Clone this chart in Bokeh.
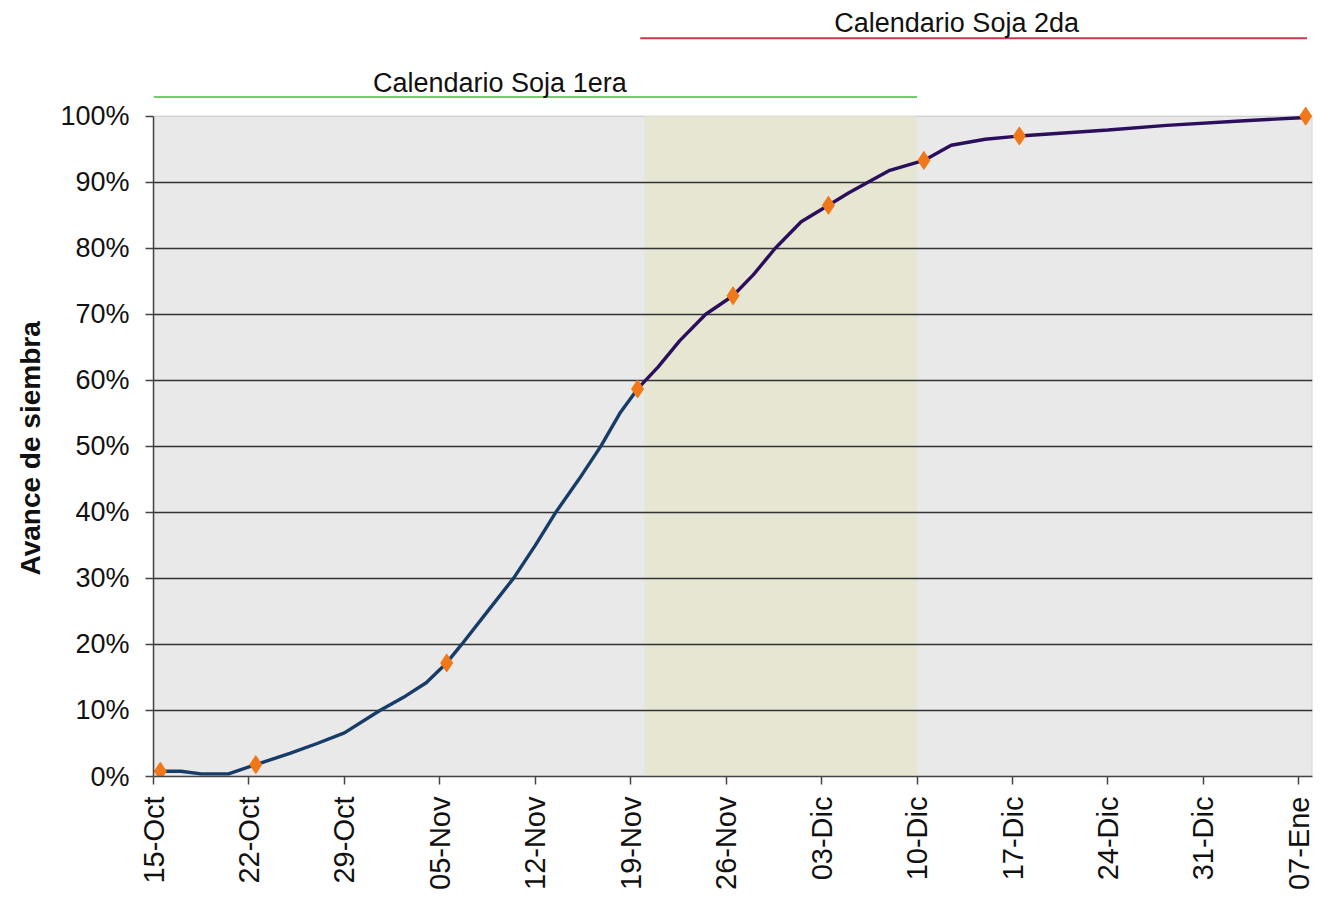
from bokeh.plotting import figure
from bokeh.models import Range1d, FixedTicker, BoxAnnotation, Title
from bokeh.core.properties import value
from bokeh.embed import file_html
from bokeh.resources import INLINE

# ---- data (x = days since 15-Oct) ----
tick_days = [0, 7, 14, 21, 28, 35, 42, 49, 56, 63, 70, 77, 84]
tick_labels = ["15-Oct", "22-Oct", "29-Oct", "05-Nov", "12-Nov", "19-Nov", "26-Nov",
               "03-Dic", "10-Dic", "17-Dic", "24-Dic", "31-Dic", "07-Ene"]

marker_days = [0.5, 7.5, 21.5, 35.5, 42.5, 49.5, 56.5, 63.5, 84.5]
marker_values = [0.8, 1.8, 17.2, 58.7, 72.8, 86.5, 93.3, 97.0, 100.0]

line1_days = [0.5, 2, 3.5, 5.5, 7.5, 10, 12, 14, 16.6, 18.5, 20, 21.5, 22.6, 24.5, 26.4, 28,
              29.5, 31.2, 32.8, 34.2, 35.5]
line1_values = [0.8, 0.8, 0.4, 0.4, 1.8, 3.5, 5.0, 6.6, 10, 12.2, 14.2, 17.2, 20, 25, 30, 35,
                40, 45, 50, 55, 58.7]

line2_days = [35.5, 37, 38.6, 40.5, 42.5, 44, 45.6, 47.5, 49.5, 51, 52.4, 54, 56.5,
              58.5, 61, 63.5, 70, 74.3, 80, 84.5]
line2_values = [58.7, 62, 66, 70, 72.8, 76, 80, 84, 86.5, 88.4, 90, 91.8, 93.3,
                95.6, 96.5, 97.0, 97.9, 98.6, 99.3, 99.8]

cal_names = ["Calendario Soja 1era", "Calendario Soja 2da"]
cal_start = [0, 35.7]
cal_end = [56, 84.6]
cal_line_y = [102.9, 111.8]
cal_text_x = [25.4, 58.9]
cal_text_y = [105.0, 114.1]
cal_colors = ["#6fcf6f", "#c8384a"]

shade_start, shade_end = 36, 56

y_ticks = [0, 10, 20, 30, 40, 50, 60, 70, 80, 90, 100]
y_labels = ["0%", "10%", "20%", "30%", "40%", "50%", "60%", "70%", "80%", "90%", "100%"]
y_title = "Avance de siembra"

FONT = "Liberation Sans"

p = figure(width=1321, height=893, output_backend="svg", toolbar_location=None,
           x_range=Range1d(0, 85), y_range=Range1d(0, 116),
           min_border_left=153, min_border_right=9, min_border_top=10, min_border_bottom=116)
p.outline_line_color = None
p.background_fill_color = "white"
p.border_fill_color = "white"

# plot area background and shaded band
p.add_layout(BoxAnnotation(left=0, right=85, bottom=0, top=100, fill_color="#e9e9e9",
                           fill_alpha=1, line_color="#8a8a8a", line_width=1.5, level="image"))
p.add_layout(BoxAnnotation(left=shade_start, right=shade_end, bottom=0, top=100,
                           fill_color="#e6e6d3", fill_alpha=1, line_color=None, level="image"))

# grid
p.xgrid.visible = False
p.ygrid.ticker = FixedTicker(ticks=y_ticks[1:-1])
p.ygrid.grid_line_color = "#333333"
p.ygrid.grid_line_width = 1.6

# axes
p.yaxis.ticker = FixedTicker(ticks=y_ticks)
p.yaxis.major_label_overrides = {t: l for t, l in zip(y_ticks, y_labels)}
p.yaxis.bounds = (0, 100)
p.yaxis.major_label_text_font = FONT
p.yaxis.major_label_text_font_size = "27px"
p.yaxis.major_label_text_color = "#111111"
p.yaxis.major_label_standoff = 16

p.xaxis.ticker = FixedTicker(ticks=tick_days)
p.xaxis.major_label_overrides = {t: l for t, l in zip(tick_days, tick_labels)}
p.xaxis.major_label_orientation = 3.14159265 / 2
p.xaxis.major_label_text_font = FONT
p.xaxis.major_label_text_font_size = "29px"
p.xaxis.major_label_text_color = "#111111"
p.xaxis.major_label_standoff = 12

for ax in (p.xaxis, p.yaxis):
    ax.axis_line_color = "#444444"
    ax.axis_line_width = 1.5
    ax.major_tick_line_color = "#444444"
    ax.major_tick_line_width = 1.5
    ax.major_tick_out = 8
    ax.major_tick_in = 0
    ax.minor_tick_line_color = None

# y axis title, placed to be centred on the 0-100% band
p.add_layout(Title(text=y_title, align="left", offset=201, standoff=20, vertical_align="top",
                   text_font=FONT, text_font_style="bold", text_font_size="28px",
                   text_color="#111111"), "left")

# calendar annotations above the plot area
p.segment(x0=cal_start, y0=cal_line_y, x1=cal_end, y1=cal_line_y, line_color=cal_colors,
          line_width=2)
p.text(x=cal_text_x, y=cal_text_y, text=cal_names, text_align="center",
       text_baseline="middle", text_font=value(FONT), text_font_size="27px",
       text_color="#111111")

# series
p.line(line1_days, line1_values, line_color="#173c68", line_width=3.4)
p.line(line2_days, line2_values, line_color="#2c0f5c", line_width=3.4)
p.scatter(marker_days, marker_values, marker="diamond", size=18, fill_color="#f07818",
          line_color="#f07818")

open("out.html", "w").write(file_html(p, INLINE))
